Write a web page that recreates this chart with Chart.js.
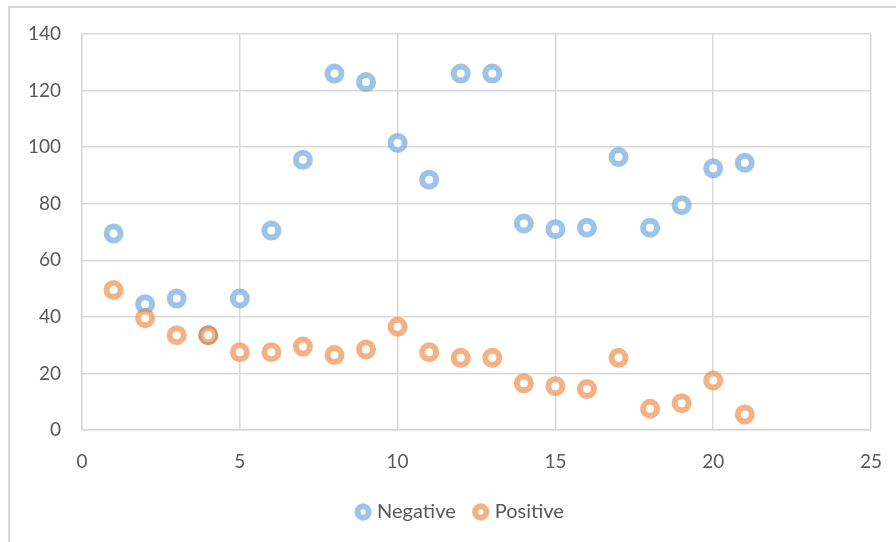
<!DOCTYPE html>
<html>
<head>
<meta charset="utf-8">
<script src="https://cdn.jsdelivr.net/npm/chart.js@4"></script>
<style>
  html, body { margin: 0; padding: 0; background: #fff; overflow: hidden; }
  #wrap { position: relative; width: 896px; height: 542px; overflow: hidden; }
  #frame { position: absolute; left: 8px; top: 6px; width: 900px; height: 560px; border: 2px solid #d9d9d9; }
  #chart { position: absolute; left: 0; top: 0; }
</style>
</head>
<body>
<div id="wrap">
  <div id="frame"></div>
  <!-- canvas rộng hơn khung một chút để chú thích nằm lệch phải như hình gốc -->
  <canvas id="chart" width="923" height="542"></canvas>
</div>
<script>
// Dữ liệu
const xValues = [1, 2, 3, 4, 5, 6, 7, 8, 9, 10, 11, 12, 13, 14, 15, 16, 17, 18, 19, 20, 21];
const negative = [69.5, 44.5, 46.5, 33.5, 46.5, 70.5, 95.5, 126, 123, 101.5, 88.5, 126, 126, 73, 71, 71.5, 96.5, 71.5, 79.5, 92.5, 94.5];
const positive = [49.5, 39.5, 33.5, 33.5, 27.5, 27.5, 29.5, 26.5, 28.5, 36.5, 27.5, 25.5, 25.5, 16.5, 15.5, 14.5, 25.5, 7.5, 9.5, 17.5, 5.5];
const seriesNames = ['Negative', 'Positive'];
const xTicks = [0, 5, 10, 15, 20, 25];
const yTicks = [0, 20, 40, 60, 80, 100, 120, 140];

const gridColor = '#d9d9d9';
const textColor = '#595959';
const tickFont = { family: 'Lato', size: 19 };
const legendFont = { family: 'Lato', size: 20 };

function toPoints(ys) {
    return xValues.map((x, i) => ({ x: x, y: ys[i] }));
}

function makeDataset(name, ys, color, order) {
    return {
        label: name,
        data: toPoints(ys),
        order: order,
        pointRadius: 7,
        pointHoverRadius: 7,
        borderWidth: 6,
        pointBorderWidth: 6,
        borderColor: color,
        pointBorderColor: color,
        backgroundColor: '#ffffff',
        pointBackgroundColor: '#ffffff',
        showLine: false
    };
}

const ctx = document.getElementById('chart').getContext('2d');
new Chart(ctx, {
    type: 'scatter',
    data: {
        datasets: [
            makeDataset(seriesNames[0], negative, 'rgba(91, 155, 213, 0.6)', 1),
            makeDataset(seriesNames[1], positive, 'rgba(237, 125, 49, 0.6)', 0)
        ]
    },
    options: {
        responsive: false,
        animation: false,
        layout: { padding: { left: 0, top: 34, right: 0, bottom: 10 } },
        plugins: {
            tooltip: { enabled: false },
            legend: {
                position: 'bottom',
                labels: {
                    usePointStyle: true,
                    pointStyle: 'circle',
                    boxWidth: 8,
                    boxHeight: 8,
                    padding: 21,
                    color: textColor,
                    font: legendFont,
                    sort: (a, b) => a.datasetIndex - b.datasetIndex
                }
            }
        },
        scales: {
            x: {
                type: 'linear',
                min: 0,
                max: 25,
                afterBuildTicks: (scale) => { scale.ticks = xTicks.map(v => ({ value: v })); },
                afterFit: (scale) => {
                    scale.height = 51;
                    scale.paddingLeft = 0;
                    scale.paddingRight = 52;
                },
                grid: { color: gridColor, lineWidth: 1.5, drawTicks: false },
                border: { color: gridColor, width: 1.5 },
                ticks: { color: textColor, font: tickFont, padding: 20 }
            },
            y: {
                type: 'linear',
                min: 0,
                max: 140,
                afterBuildTicks: (scale) => { scale.ticks = yTicks.map(v => ({ value: v })); },
                afterFit: (scale) => { scale.width = 82; },
                grid: { color: gridColor, lineWidth: 1.5, drawTicks: false },
                border: { color: gridColor, width: 1.5 },
                ticks: { color: textColor, font: tickFont, padding: 21 }
            }
        }
    }
});
</script>
</body>
</html>
